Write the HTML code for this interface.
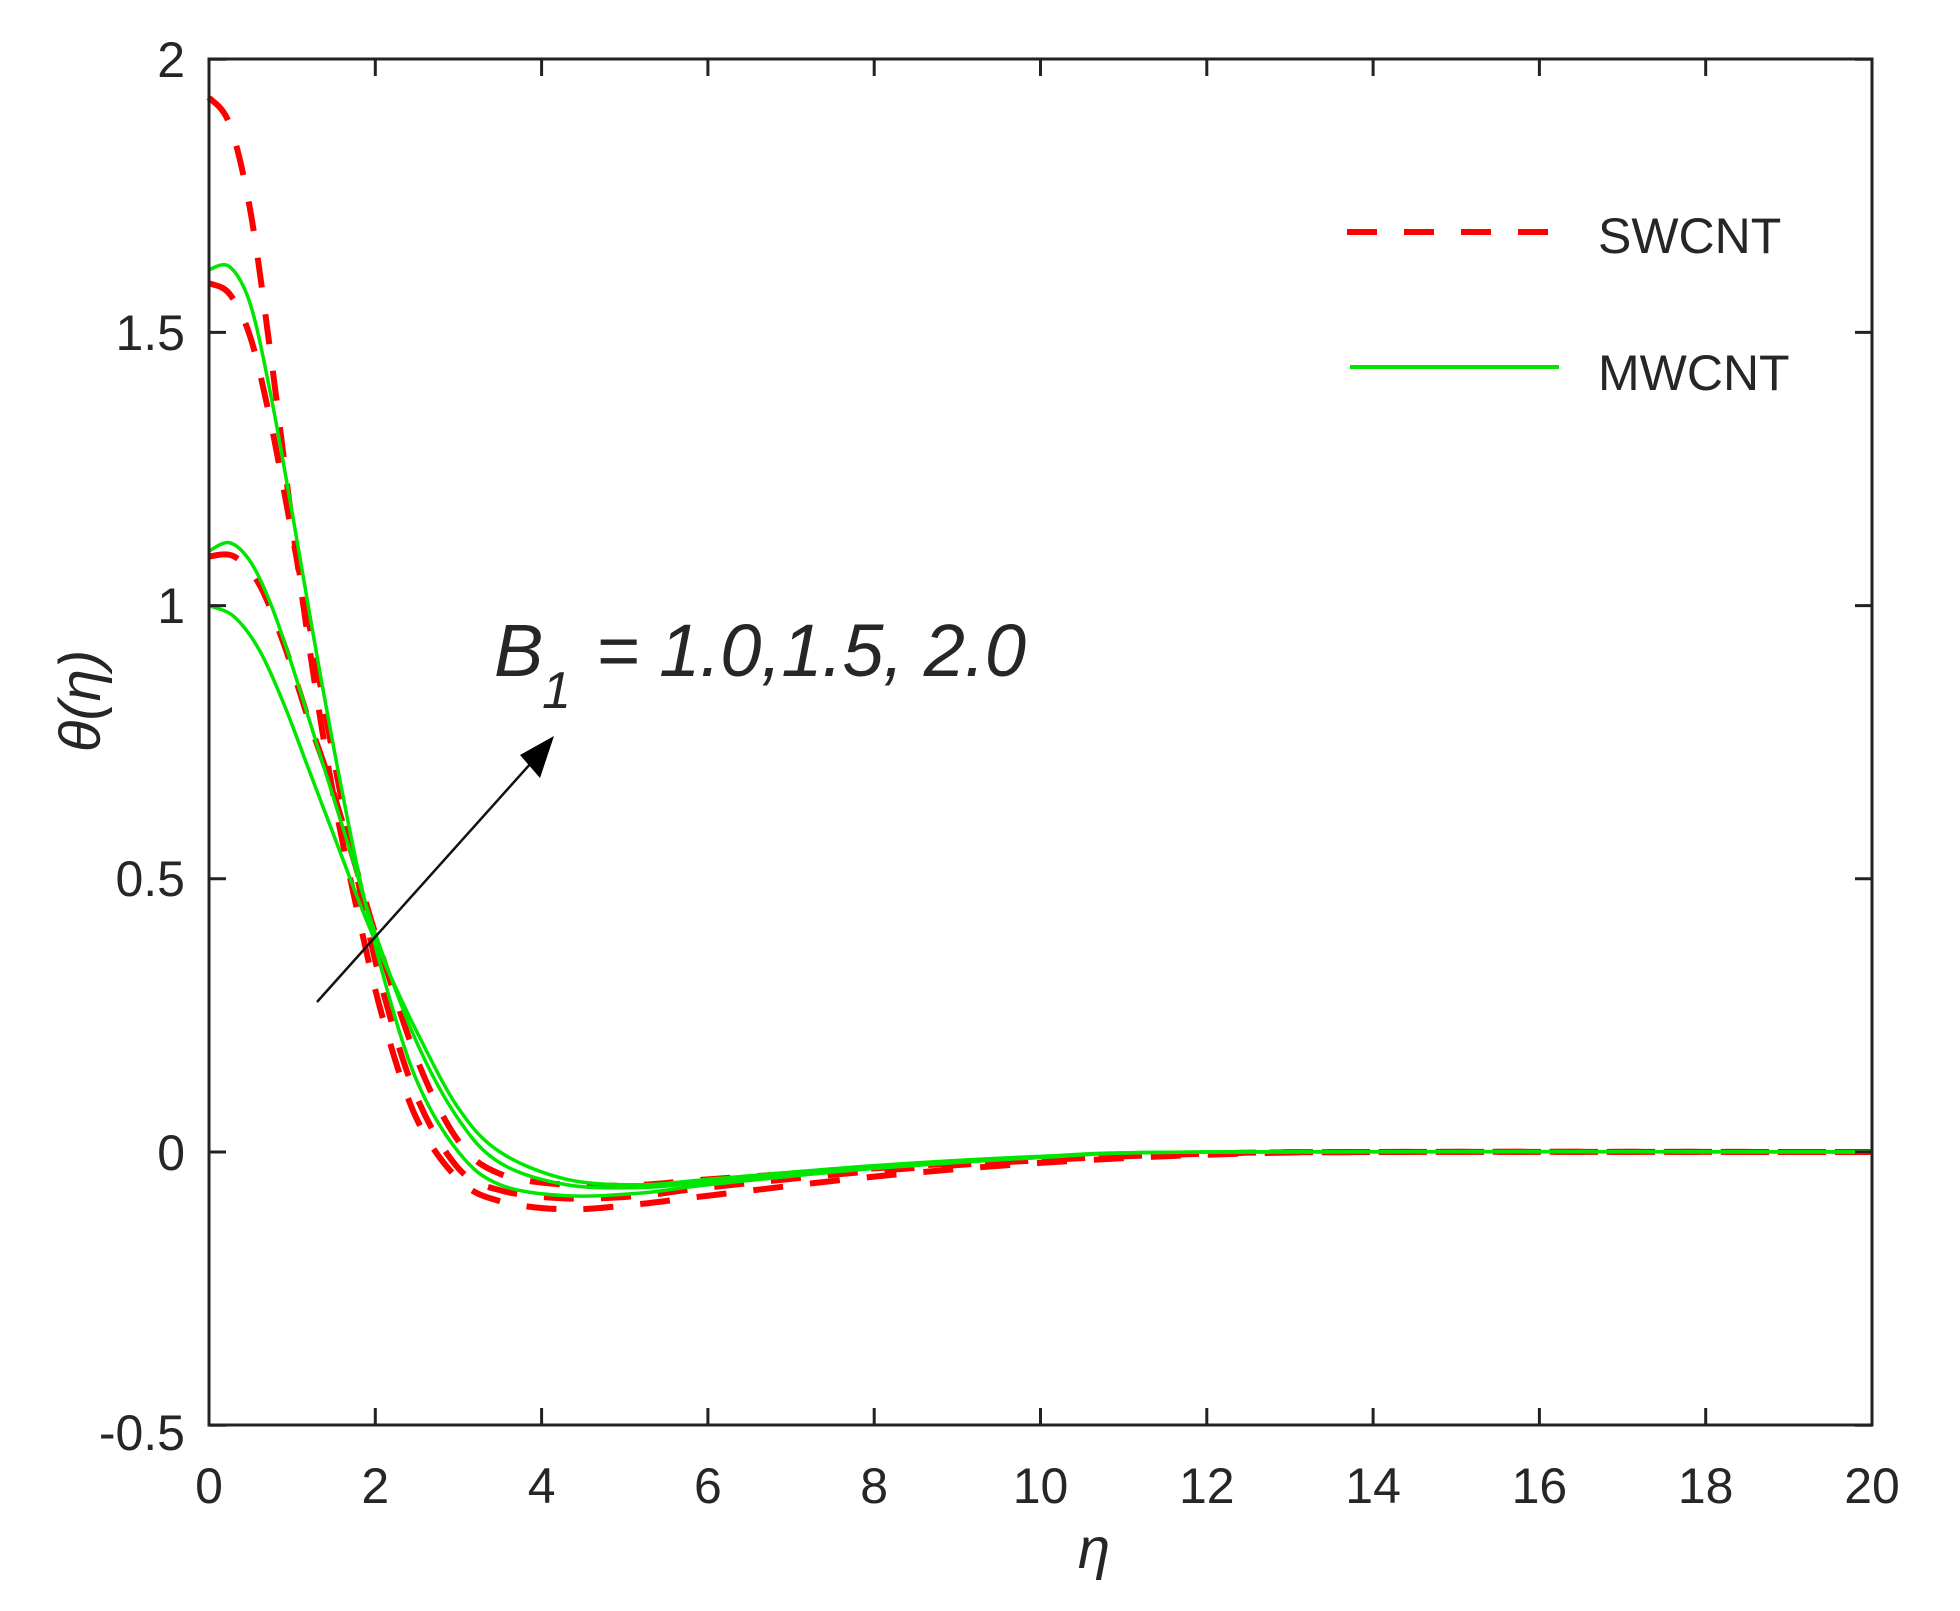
<!DOCTYPE html>
<html><head><meta charset="utf-8">
<style>
html,body{margin:0;padding:0;background:#fff;}
svg{display:block;}
text{font-family:"Liberation Sans",Arial,sans-serif;fill:#262626;}
</style></head>
<body>
<svg id="s" width="1960" height="1611" viewBox="0 0 1960 1611" xmlns="http://www.w3.org/2000/svg">
<rect width="1960" height="1611" fill="#fff"/>
<g id="curves"></g>
<rect x="209" y="59" width="1663" height="1366" fill="none" stroke="#222" stroke-width="3"/>
<g id="ticks" stroke="#222" stroke-width="3"></g>
<g font-size="50" text-anchor="end">
<text x="185" y="77">2</text>
<text x="185" y="350">1.5</text>
<text x="185" y="623">1</text>
<text x="185" y="896">0.5</text>
<text x="185" y="1170">0</text>
<text x="185" y="1450">-0.5</text>
</g>
<g font-size="50" text-anchor="middle" id="xl"></g>
<text x="1094" y="1568" font-size="58" font-family="Liberation Serif,serif" font-style="italic" text-anchor="middle">η</text>
<text transform="translate(100,701) rotate(-90)" font-size="58" font-family="Liberation Serif,serif" font-style="italic" text-anchor="middle">θ(η)</text>
<line x1="1347" y1="232" x2="1559" y2="232" stroke="#ff0000" stroke-width="6" stroke-dasharray="30,27"/>
<text x="1598" y="253" font-size="50">SWCNT</text>
<line x1="1350" y1="367" x2="1559" y2="367" stroke="#00e600" stroke-width="4"/>
<text x="1598" y="390" font-size="50">MWCNT</text>
<line x1="317" y1="1002" x2="540" y2="753" stroke="#111" stroke-width="2.5"/>
<polygon points="554,736 520,755 540,778" fill="#000"/>
<text x="494" y="676" font-size="74" font-style="italic" fill="#111">B</text>
<text x="542" y="708" font-size="52" font-style="italic" fill="#111">1</text>
<text x="596" y="676" font-size="74" font-style="italic" fill="#111" textLength="430">= 1.0,1.5, 2.0</text>
</svg>
<script>
var X=function(e){return 209+e*83.15;}, Y=function(t){return 1152-t*546.4;};
var tk=document.getElementById('ticks'), xl=document.getElementById('xl');
for(var i=0;i<=20;i+=2){var x=X(i);
 tk.insertAdjacentHTML('beforeend','<line x1="'+x+'" y1="1425" x2="'+x+'" y2="1408"/><line x1="'+x+'" y1="59" x2="'+x+'" y2="76"/>');
 xl.insertAdjacentHTML('beforeend','<text x="'+x+'" y="1503">'+i+'</text>');}
for(var v=-0.5;v<=2;v+=0.5){var y=Y(v);
 tk.insertAdjacentHTML('beforeend','<line x1="209" y1="'+y+'" x2="226" y2="'+y+'"/><line x1="1872" y1="'+y+'" x2="1855" y2="'+y+'"/>');}
function path(p){var pts=p.map(function(q){return [X(q[0]),Y(q[1])];});
 var d='M'+pts[0][0]+','+pts[0][1];
 for(var i=0;i<pts.length-1;i++){var p0=pts[Math.max(i-1,0)],p1=pts[i],p2=pts[i+1],p3=pts[Math.min(i+2,pts.length-1)];
  var c1=[p1[0]+(p2[0]-p0[0])/6,p1[1]+(p2[1]-p0[1])/6],c2=[p2[0]-(p3[0]-p1[0])/6,p2[1]-(p3[1]-p1[1])/6];
  d+=' C'+c1.join(',')+' '+c2.join(',')+' '+p2.join(',');}
 return d;}
var red=[
[[0,1.93],[0.25,1.88],[0.5,1.72],[0.75,1.45],[1.0,1.15],[1.25,0.88],[1.5,0.65],[1.8,0.43],[2.1,0.24],[2.5,0.06],[3,-0.05],[3.5,-0.09],[4.3,-0.105],[5.2,-0.095],[6,-0.08],[8,-0.045],[10,-0.02],[12,-0.005],[14,0],[20,0]],
[[0,1.59],[0.25,1.57],[0.5,1.49],[0.75,1.33],[1.0,1.13],[1.25,0.93],[1.5,0.72],[1.8,0.49],[2.1,0.29],[2.5,0.1],[3,-0.03],[3.5,-0.07],[4.3,-0.085],[5.2,-0.08],[6,-0.065],[8,-0.035],[10,-0.015],[12,-0.003],[14,0],[20,0]],
[[0,1.09],[0.3,1.09],[0.6,1.04],[0.9,0.93],[1.2,0.79],[1.45,0.68],[1.75,0.53],[2.0,0.4],[2.5,0.17],[3,0.02],[3.5,-0.04],[4.3,-0.06],[5.2,-0.06],[6,-0.05],[8,-0.03],[10,-0.012],[12,-0.003],[14,0],[20,0]]];
var green=[
[[0,1.615],[0.25,1.62],[0.5,1.55],[0.75,1.38],[1.0,1.17],[1.25,0.95],[1.5,0.74],[1.8,0.51],[2.1,0.32],[2.5,0.13],[3,0],[3.5,-0.06],[4.3,-0.08],[5.2,-0.075],[6,-0.06],[8,-0.03],[10,-0.01],[12,0],[20,0]],
[[0,1.10],[0.25,1.115],[0.5,1.08],[0.75,1.0],[1.0,0.89],[1.35,0.72],[1.7,0.55],[2.0,0.40],[2.5,0.2],[3,0.06],[3.5,-0.02],[4.3,-0.06],[5.2,-0.065],[6,-0.055],[8,-0.03],[10,-0.01],[12,0],[20,0]],
[[0,1.0],[0.3,0.98],[0.6,0.92],[0.9,0.82],[1.2,0.70],[1.5,0.58],[1.8,0.46],[2.1,0.35],[2.5,0.22],[3,0.08],[3.5,0],[4.3,-0.05],[5.2,-0.06],[6,-0.05],[8,-0.025],[10,-0.008],[12,0],[20,0]]];
var g=document.getElementById('curves'),h='';
red.forEach(function(c){h+='<path d="'+path(c)+'" fill="none" stroke="#ff0000" stroke-width="6" stroke-dasharray="30,27"/>';});
green.forEach(function(c){h+='<path d="'+path(c)+'" fill="none" stroke="#00e600" stroke-width="3.5"/>';});
g.innerHTML=h;
</script>
</body></html>
